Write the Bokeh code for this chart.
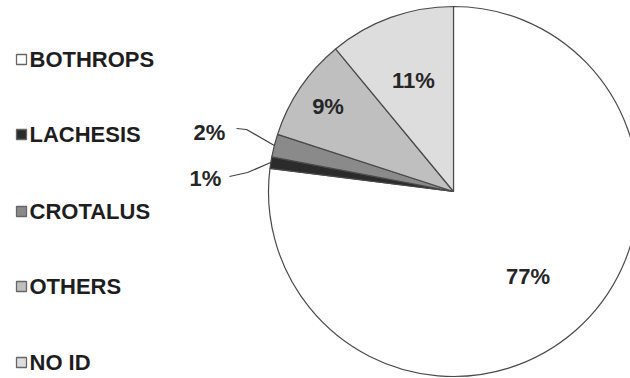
import math
from bokeh.plotting import figure
from bokeh.models import Range1d, ColumnDataSource
from bokeh.core.properties import value
from bokeh.embed import file_html
from bokeh.resources import INLINE

# Snake genus identified in bite cases (share of total, %)
genera = ["BOTHROPS", "LACHESIS", "CROTALUS", "OTHERS", "NO ID"]
shares = [77, 1, 2, 9, 11]
labels = ["77%", "1%", "2%", "9%", "11%"]

# Styling
colors = ["#ffffff", "#2b2b2b", "#8a8a8a", "#bfbfbf", "#dddddd"]
label_radius = [0.61, None, None, 0.82, 0.64]   # None: placed outside with a leader line

W, H = 630, 378
cx, cy, R = 453, H - 191, 185
FONT = value("Liberation Sans")

p = figure(width=W, height=H, output_backend="svg", toolbar_location=None,
           x_range=Range1d(0, W), y_range=Range1d(0, H), min_border=0)
p.axis.visible = False
p.grid.visible = False
p.outline_line_color = None
p.background_fill_color = "white"
p.border_fill_color = "white"

# Wedges run clockwise from 12 o'clock
total = float(sum(shares))
starts, ends, cum = [], [], 0.0
for s in shares:
    starts.append(math.pi / 2 - 2 * math.pi * cum / total)
    cum += s
    ends.append(math.pi / 2 - 2 * math.pi * cum / total)
mids = [(a + b) / 2 for a, b in zip(starts, ends)]

src = ColumnDataSource(dict(start=starts, end=ends, color=colors, genus=genera))
p.wedge(x=cx, y=cy, radius=R, start_angle="start", end_angle="end", direction="clock",
        fill_color="color", line_color="#4a4a4a", line_width=1.2, source=src)

# Inside labels
ix, iy, it = [], [], []
for m, lab, rf in zip(mids, labels, label_radius):
    if rf is not None:
        ix.append(cx + rf * R * math.cos(m))
        iy.append(cy + rf * R * math.sin(m))
        it.append(lab)
p.text(x=ix, y=iy, text=it, text_font=FONT, text_font_style="bold",
       text_font_size="22px", text_color="#262626", text_align="center",
       text_baseline="middle")

# Outside labels with leader lines (small slices)
outside = {1: (205, H - 178, 229, H - 176, 247, H - 172),
           2: (209, H - 132, 236, H - 128, 246, H - 129)}
for i, (tx, ty, l0x, l0y, l1x, l1y) in outside.items():
    ex = cx + R * math.cos(mids[i])
    ey = cy + R * math.sin(mids[i])
    p.line(x=[l0x, l1x, ex], y=[l0y, l1y, ey], line_color="#444444", line_width=1.2)
    p.text(x=[tx], y=[ty], text=[labels[i]], text_font=FONT, text_font_style="bold",
           text_font_size="22px", text_color="#262626", text_align="center",
           text_baseline="middle")

# Legend column on the left
leg_y = [H - 59, H - 134, H - 211, H - 286, H - 362]
p.rect(x=[21] * len(genera), y=leg_y, width=10, height=10, width_units="screen",
       height_units="screen", fill_color=colors, line_color="#666666", line_width=1.3)
p.text(x=[29] * len(genera), y=leg_y, text=genera, text_font=FONT,
       text_font_style="bold", text_font_size="22px", text_color="#1e1e1e",
       text_align="left", text_baseline="middle")

open("out.html", "w").write(file_html(p, INLINE))
